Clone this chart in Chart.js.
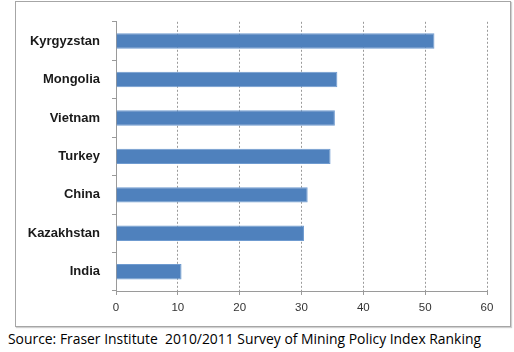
<!DOCTYPE html>
<html>
<head>
<meta charset="utf-8">
<script src="https://cdn.jsdelivr.net/npm/chart.js@4"></script>
<style>
  html, body { margin: 0; padding: 0; background: #fff; }
  body { width: 514px; height: 352px; position: relative; overflow: hidden; }
  #box {
    position: absolute; left: 15px; top: 1px;
    width: 494px; height: 324px;
    border: 1px solid #a6a6a6;
    box-shadow: 1px 1px 1px #d0d0d0;
  }
  #source {
    position: absolute; left: 8px; top: 329px;
    font-family: "Open Sans", sans-serif; font-size: 13.9px; color: #000;
    white-space: pre;
  }
</style>
</head>
<body>
<div id="box"><canvas id="chart" width="494" height="324"></canvas></div>
<div id="source">Source: Fraser Institute  2010/2011 Survey of Mining Policy Index Ranking</div>
<script>
const countries = ["Kyrgyzstan", "Mongolia", "Vietnam", "Turkey", "China", "Kazakhstan", "India"];
const scores = [51.5, 35.8, 35.4, 34.7, 31.0, 30.4, 10.6];
const xTicks = [0, 10, 20, 30, 40, 50, 60];

const ctx = document.getElementById("chart").getContext("2d");
new Chart(ctx, {
  type: "bar",
  data: {
    labels: countries,
    datasets: [
      {
        data: scores,
        backgroundColor: "#4f81bd",
        borderColor: "#6f9bd0",
        borderWidth: 1,
        borderSkipped: "left",
        categoryPercentage: 1,
        barPercentage: 0.4,
      },
    ],
  },
  options: {
    indexAxis: "y",
    responsive: false,
    animation: false,
    layout: { padding: { top: 14, right: 23, left: 0, bottom: 0 } },
    plugins: {
      legend: { display: false },
      tooltip: { enabled: false },
    },
    scales: {
      x: {
        min: 0,
        max: 60,
        afterBuildTicks: (scale) => {
          scale.ticks = xTicks.map((v) => ({ value: v }));
        },
        afterFit: (scale) => {
          scale.height = 35;
        },
        grid: {
          color: "#9a9a9a",
          lineWidth: 1,
          tickLength: 4,
          tickColor: "#9a9a9a",
          tickBorderDash: [],
        },
        border: { display: true, color: "#9a9a9a", width: 1, dash: [2, 2] },
        ticks: {
          padding: 6,
          color: "#333333",
          font: { family: "Liberation Sans, Arial", size: 11.5 },
        },
      },
      y: {
        afterFit: (scale) => {
          scale.width = 100;
        },
        grid: {
          drawOnChartArea: false,
          tickLength: 4,
          tickColor: "#9a9a9a",
        },
        border: { display: true, color: "#9a9a9a", width: 1 },
        ticks: {
          padding: 12,
          color: "#1a1a1a",
          font: { family: "Liberation Sans, Arial", size: 13, weight: "bold" },
        },
      },
    },
  },
});
</script>
</body>
</html>
